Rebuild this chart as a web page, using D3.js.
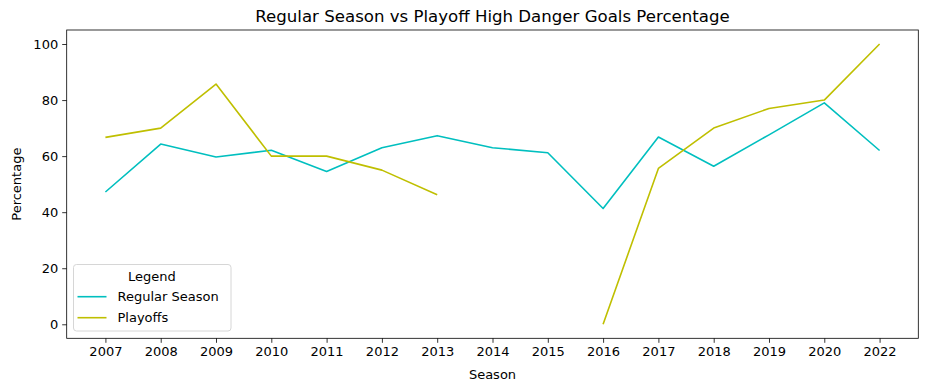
<!DOCTYPE html>
<html>
<head>
<meta charset="utf-8">
<script src="https://cdn.jsdelivr.net/npm/d3@7"></script>
<style>
  html, body { margin: 0; padding: 0; background: #fff; }
  svg { display: block; font-family: "DejaVu Sans", sans-serif; }
</style>
</head>
<body>
<svg id="chart" width="928" height="391"></svg>
<script>
const seasons = ["2007","2008","2009","2010","2011","2012","2013","2014","2015","2016","2017","2018","2019","2020","2022"];
const regularSeason = [47.2, 64.3, 59.7, 62.1, 54.5, 63.0, 67.3, 63.0, 61.2, 41.3, 66.8, 56.4, 67.6, 79.0, 62.0];
const playoffs = [66.7, 70.0, 85.7, 60.0, 60.0, 55.0, 46.2, null, null, 0, 55.6, 70.0, 77.0, 80.0, 100.0];
const yTicks = [0, 20, 40, 60, 80, 100];
const seriesNames = ["Regular Season", "Playoffs"];
const seriesColors = ["#00bfbf", "#bfbf00"];

const svg = d3.select("#chart");
const mLeft = 66.7, mRight = 918.3, mTop = 30, mBottom = 338.3;

const xIndex = d3.scaleLinear().domain([-0.7, seasons.length - 1 + 0.7]).range([mLeft, mRight]);
const x = d => xIndex(seasons.indexOf(d));
const y = d3.scaleLinear().domain([-5, 105]).range([mBottom, mTop]);

// Axes
const xAxis = d3.axisBottom(xIndex)
  .tickValues(d3.range(seasons.length))
  .tickFormat(i => seasons[i])
  .tickSizeOuter(0).tickSize(4.5).tickPadding(4);
const gx = svg.append("g").attr("transform", `translate(0,${mBottom})`).call(xAxis);
const yAxis = d3.axisLeft(y).tickValues(yTicks).tickSizeOuter(0).tickSize(4.5).tickPadding(4);
const gy = svg.append("g").attr("transform", `translate(${mLeft},0)`).call(yAxis);
[gx, gy].forEach(g => {
  g.select(".domain").remove();
  g.selectAll(".tick line").attr("stroke", "#000").attr("stroke-width", 0.8);
  g.selectAll(".tick text").attr("fill", "#000").attr("font-size", 13).attr("font-family", "DejaVu Sans");
});

// Lines
const data = [regularSeason, playoffs];
data.forEach((vals, k) => {
  const line = d3.line()
    .defined(d => d.v !== null)
    .x(d => x(d.s))
    .y(d => y(d.v));
  svg.append("path")
    .datum(seasons.map((s, i) => ({s, v: vals[i]})))
    .attr("fill", "none")
    .attr("stroke", seriesColors[k])
    .attr("stroke-width", 1.6)
    .attr("stroke-linejoin", "round")
    .attr("d", line);
});

// Frame
svg.append("rect")
  .attr("x", mLeft).attr("y", mTop)
  .attr("width", mRight - mLeft).attr("height", mBottom - mTop)
  .attr("fill", "none").attr("stroke", "#000").attr("stroke-width", 0.8);

// Title & labels
svg.append("text").attr("x", (mLeft + mRight) / 2).attr("y", 22)
  .attr("text-anchor", "middle").attr("font-size", 16.6)
  .text("Regular Season vs Playoff High Danger Goals Percentage");
svg.append("text").attr("x", (mLeft + mRight) / 2).attr("y", 379)
  .attr("text-anchor", "middle").attr("font-size", 13).text("Season");
svg.append("text")
  .attr("transform", `translate(21,${(mTop + mBottom) / 2}) rotate(-90)`)
  .attr("text-anchor", "middle").attr("font-size", 13).text("Percentage");

// Legend
const lg = svg.append("g");
lg.append("rect").attr("x", 73.5).attr("y", 264.5).attr("width", 157.5).attr("height", 66.5)
  .attr("rx", 3).attr("fill", "#fff").attr("fill-opacity", 0.8)
  .attr("stroke", "#d6d6d6").attr("stroke-width", 1);
lg.append("text").attr("x", 152).attr("y", 281).attr("text-anchor", "middle")
  .attr("font-size", 13).text("Legend");
seriesNames.forEach((n, i) => {
  const cy = 296.7 + i * 21;
  lg.append("line").attr("x1", 77.5).attr("x2", 106.5).attr("y1", cy).attr("y2", cy)
    .attr("stroke", seriesColors[i]).attr("stroke-width", 1.6);
  lg.append("text").attr("x", 117.5).attr("y", cy + 4.7).attr("font-size", 13).text(n);
});
</script>
</body>
</html>
